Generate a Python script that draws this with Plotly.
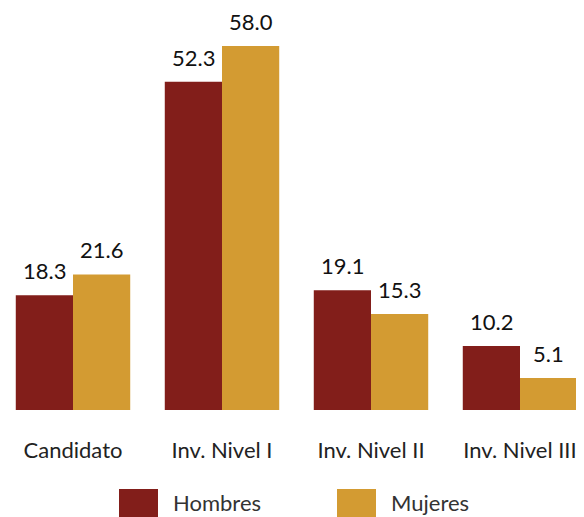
import plotly.graph_objects as go

categories = ["Candidato", "Inv. Nivel I", "Inv. Nivel II", "Inv. Nivel III"]
series_names = ["Hombres", "Mujeres"]
hombres = [18.3, 52.3, 19.1, 10.2]
mujeres = [21.6, 58.0, 15.3, 5.1]
colors = ["#821E1A", "#D39B32"]

FONT = "Lato"
OFF = 8  # page body margin offset
PLOT_H = 410 - OFF
fig = go.Figure()
for name, vals, col in zip(series_names, [hombres, mujeres], colors):
    fig.add_trace(go.Bar(x=categories, y=vals, name=name, marker=dict(color=col, line=dict(width=0)),
                         showlegend=False))

bargap = 0.232
offset_px = 149 * (1 - bargap) / 4
annotations = []
for sign, vals in zip([-1, 1], [hombres, mujeres]):
    for c, v in zip(categories, vals):
        annotations.append(dict(x=c, y=v, xref="x", yref="y", text=f"{v:.1f}", showarrow=False,
                                xshift=sign * offset_px, yanchor="bottom", yshift=9,
                                font=dict(family=FONT, size=22, color="#111111")))

# legend drawn below the plot
leg_x = [119 - OFF, 337 - OFF]
shapes = []
for i, (name, col) in enumerate(zip(series_names, colors)):
    shapes.append(dict(type="rect", xref="paper", yref="paper",
                       x0=leg_x[i] / 584, x1=(leg_x[i] + 39) / 584,
                       y0=(PLOT_H - (518 - OFF)) / PLOT_H, y1=(PLOT_H - (489 - OFF)) / PLOT_H,
                       fillcolor=col, line=dict(width=0)))
    annotations.append(dict(x=(leg_x[i] + 52) / 584, y=(PLOT_H - (502 - OFF)) / PLOT_H,
                            xref="paper", yref="paper",
                            text=name, showarrow=False, xanchor="left", yanchor="middle",
                            font=dict(family=FONT, size=22, color="#333333")))

center0 = 73 - OFF
span = 149
left = -center0 / span
right = left + 584 / span
fig.update_layout(
    width=584, height=517,
    margin=dict(l=0, r=0, t=0, b=517 - PLOT_H),
    paper_bgcolor="white", plot_bgcolor="white",
    barmode="group", bargap=bargap, bargroupgap=0,
    xaxis=dict(type="category", range=[left, right], showgrid=False, zeroline=False,
               showline=False, ticks="outside", ticklen=21, tickcolor="rgba(0,0,0,0)",
               tickfont=dict(family=FONT, size=22, color="#222222")),
    yaxis=dict(range=[0, 58 * PLOT_H / (410 - 46)], visible=False),
    annotations=annotations, shapes=shapes,
)
fig.write_html("out.html")
